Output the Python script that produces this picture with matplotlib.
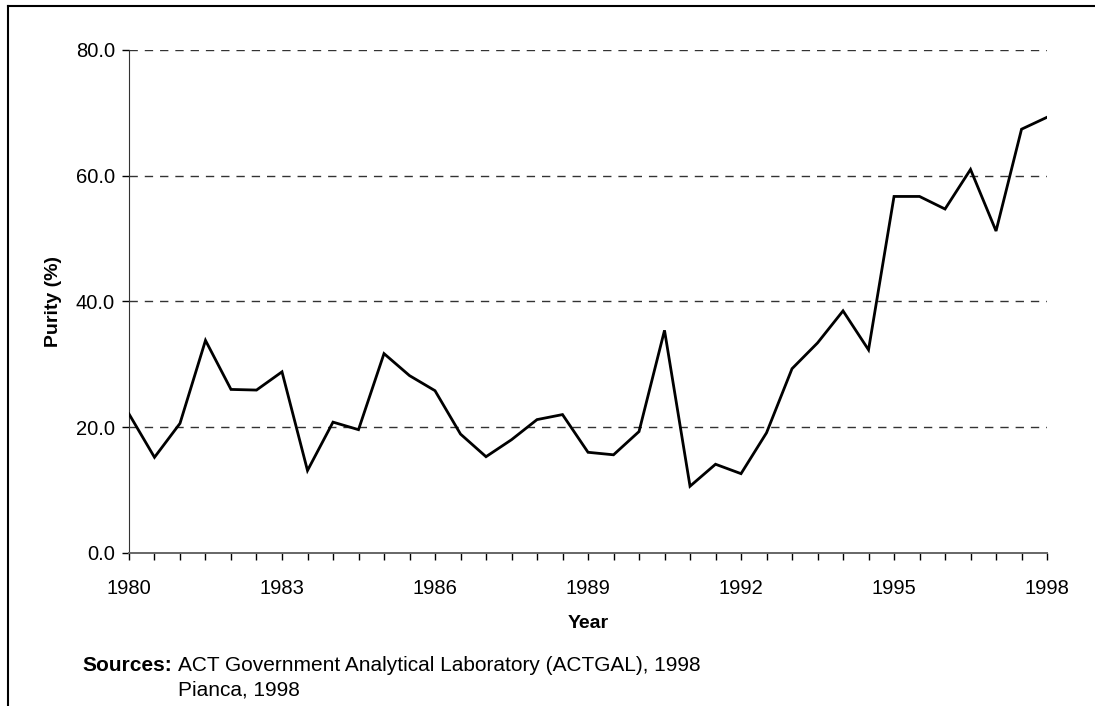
import matplotlib
matplotlib.use("Agg")
import matplotlib.pyplot as plt
from matplotlib.lines import Line2D

# half-yearly observations, 1980 to 1998
periods = [1980.0, 1980.5, 1981.0, 1981.5, 1982.0, 1982.5, 1983.0, 1983.5,
           1984.0, 1984.5, 1985.0, 1985.5, 1986.0, 1986.5, 1987.0, 1987.5,
           1988.0, 1988.5, 1989.0, 1989.5, 1990.0, 1990.5, 1991.0, 1991.5,
           1992.0, 1992.5, 1993.0, 1993.5, 1994.0, 1994.5, 1995.0, 1995.5,
           1996.0, 1996.5, 1997.0, 1997.5, 1998.0]
purity = [22.1, 15.2, 20.6, 33.8, 26.0, 25.9, 28.8, 13.1,
          20.8, 19.6, 31.7, 28.2, 25.8, 18.9, 15.3, 18.0,
          21.2, 22.0, 16.0, 15.6, 19.3, 35.4, 10.6, 14.1,
          12.6, 19.1, 29.3, 33.4, 38.5, 32.3, 56.7, 56.7,
          54.7, 61.0, 51.2, 67.4, 69.3]

year_labels = [1980, 1983, 1986, 1989, 1992, 1995, 1998]
y_ticks = [0, 20, 40, 60, 80]

plt.rcParams['font.family'] = ['Liberation Sans', 'DejaVu Sans']

fig = plt.figure(figsize=(10.95, 7.06), dpi=100)
ax = fig.add_axes([0.1178, 0.2169, 0.8384, 0.7123])

ax.plot(periods, purity, color='black', lw=2.0, solid_joinstyle='miter', zorder=3)

ax.set_xlim(1980, 1998)
ax.set_ylim(0, 80)
ax.set_xticks(periods)
ax.set_xticklabels([str(int(p)) if p in year_labels else '' for p in periods])
ax.set_yticks(y_ticks)
ax.set_yticklabels(['%.1f' % v for v in y_ticks])

ax.tick_params(axis='x', direction='out', length=5, width=1, pad=14,
               labelsize=14.5, colors='black')
ax.tick_params(axis='y', direction='out', length=5, width=1, pad=5,
               labelsize=14.5, colors='black')

for s in ['top', 'right']:
    ax.spines[s].set_visible(False)
ax.spines['left'].set_color('#333333')
ax.spines['bottom'].set_color('#666666')
ax.spines['bottom'].set_linewidth(1.4)

for v in y_ticks[1:]:
    ax.axhline(v, color='#333333', lw=1, dashes=(6, 5), zorder=1)

ax.set_xlabel('Year', fontsize=14, fontweight='bold', labelpad=12)
ax.set_ylabel('Purity (%)', fontsize=14, fontweight='bold', labelpad=10)

fig.text(0.075, 0.058, 'Sources:', fontsize=15, fontweight='bold', va='center')
fig.text(0.1625, 0.058, 'ACT Government Analytical Laboratory (ACTGAL), 1998',
         fontsize=15, va='center')
fig.text(0.1625, 0.0225, 'Pianca, 1998', fontsize=15, va='center')

# outer frame, cropped at right and bottom
fig.add_artist(Line2D([0.0069, 1.0], [0.9915, 0.9915], color='black', lw=1.5,
                      transform=fig.transFigure))
fig.add_artist(Line2D([0.0069, 0.0069], [0.0, 0.9915], color='black', lw=1.5,
                      transform=fig.transFigure))

fig.savefig('out.png', dpi=100)
